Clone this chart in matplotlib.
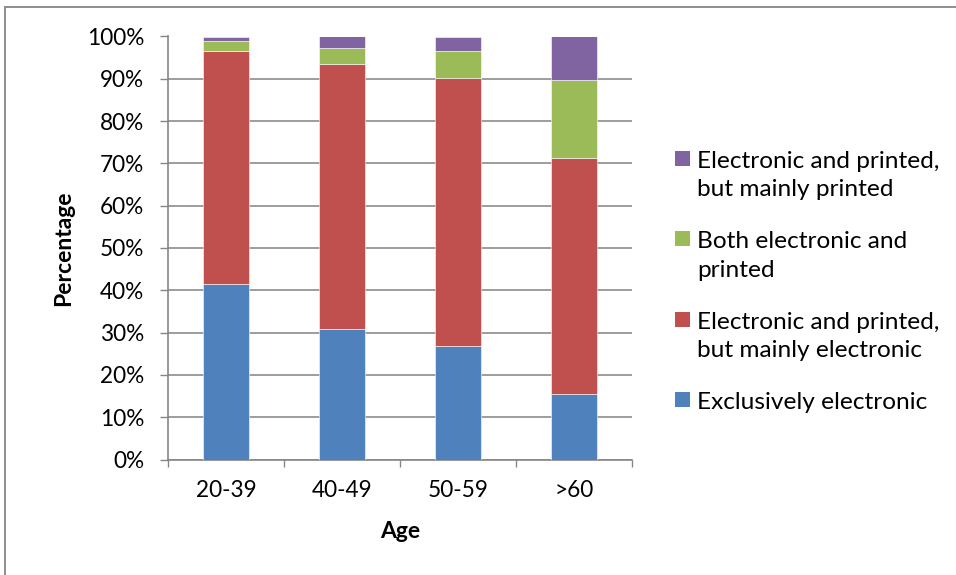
import matplotlib.pyplot as plt
from matplotlib.patches import Rectangle
import numpy as np

# Data (percent of each age group)
ages = ['20-39', '40-49', '50-59', '>60']
exclusively_electronic = [41.6, 30.8, 26.9, 15.6]
mainly_electronic = [55.0, 62.7, 63.3, 55.7]
both_equal = [2.4, 3.7, 6.3, 18.5]
mainly_printed = [1.0, 2.8, 3.5, 10.2]

series = [
    ('Exclusively electronic', exclusively_electronic, '#4F81BD'),
    ('Electronic and printed,\nbut mainly electronic', mainly_electronic, '#C0504D'),
    ('Both electronic and\nprinted', both_equal, '#9BBB59'),
    ('Electronic and printed,\nbut mainly printed', mainly_printed, '#8064A2'),
]

plt.rcParams['font.family'] = ['Lato', 'DejaVu Sans']

W, H = 956, 575
fig = plt.figure(figsize=(W / 100, H / 100), dpi=100)
ax = fig.add_axes([168 / W, 1 - 459.5 / H, 464 / W, 423 / H])

x = np.arange(len(ages))
bottom = np.zeros(len(ages))
for label, vals, color in series:
    ax.bar(x, vals, width=0.4, bottom=bottom, color=color,
           edgecolor='white', linewidth=0.4, zorder=3)
    bottom += np.array(vals)

ax.set_xlim(-0.5, len(ages) - 0.5)
ax.set_ylim(0, 100)
ax.set_yticks(np.arange(0, 101, 10))
ax.set_yticklabels([f'{v}%' for v in range(0, 101, 10)], fontsize=16.3)
ax.set_xticks(x)
ax.set_xticklabels(ages, fontsize=16.3)
ax.set_xticks(np.arange(-0.5, len(ages), 1), minor=True)
ax.tick_params(axis='x', which='major', length=0, pad=15)
ax.tick_params(axis='x', which='minor', length=5, color='#868686', width=1)
ax.tick_params(axis='y', length=6, color='#868686', width=1, pad=11)

ax.yaxis.grid(True, color='#8c8c8c', linewidth=1.2, zorder=0)
for s in ['top', 'right']:
    ax.spines[s].set_visible(False)
for s in ['left', 'bottom']:
    ax.spines[s].set_color('#868686')
    ax.spines[s].set_linewidth(1.2)

ax.set_ylabel('Percentage', fontsize=16.5, fontweight='bold')
ax.set_xlabel('Age', fontsize=16.5, fontweight='bold')
ax.yaxis.set_label_coords((74 - 168) / 464, 0.5)
ax.xaxis.set_label_coords(0.5, (459.5 - 521) / 423)

# legend: square aligned with first text line, reversed order
baseline = 168
for label, vals, color in series[::-1]:
    fig.patches.append(Rectangle((675 / W, 1 - (baseline - 2) / H), 15 / W, 15 / H,
                                 transform=fig.transFigure, facecolor=color,
                                 edgecolor='none'))
    for k, line in enumerate(label.split('\n')):
        fig.text(697 / W, 1 - (baseline + 28.5 * k) / H, line, fontsize=17.6,
                 ha='left', va='baseline')
    baseline += 80.3

# outer chart border
fig.patches.append(Rectangle((5 / W, -0.1), 1.2, 1 - 7 / H + 0.1,
                             transform=fig.transFigure, fill=False,
                             edgecolor='#868686', linewidth=1.3))

fig.savefig('out.png', dpi=100)
